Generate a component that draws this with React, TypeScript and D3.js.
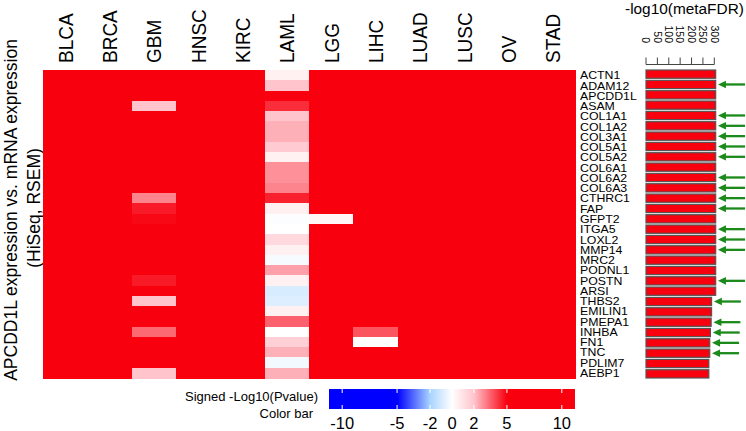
import React from 'react';
import * as d3 from 'd3';

const W = 746;
const H = 431;

const cancers = ["BLCA", "BRCA", "GBM", "HNSC", "KIRC", "LAML", "LGG", "LIHC", "LUAD", "LUSC", "OV", "STAD"];
const genes = ["ACTN1", "ADAM12", "APCDD1L", "ASAM", "COL1A1", "COL1A2", "COL3A1", "COL5A1", "COL5A2", "COL6A1",
  "COL6A2", "COL6A3", "CTHRC1", "FAP", "GFPT2", "ITGA5", "LOXL2", "MMP14", "MRC2", "PODNL1",
  "POSTN", "ARSI", "THBS2", "EMILIN1", "PMEPA1", "INHBA", "FN1", "TNC", "PDLIM7", "AEBP1"];

// signed -log10(p) per cancer (one value per gene, in gene order)
const BLCA = [10, 10, 10, 10, 10, 10, 10, 10, 10, 10, 10, 10, 10, 10, 10, 10, 10, 10, 10, 10, 10, 10, 10, 10, 10, 10, 10, 10, 10, 10];
const BRCA = [10, 10, 10, 10, 10, 10, 10, 10, 10, 10, 10, 10, 10, 10, 10, 10, 10, 10, 10, 10, 10, 10, 10, 10, 10, 10, 10, 10, 10, 10];
const GBM = [10, 10, 10, 2.0, 10, 10, 10, 10, 10, 10, 10, 10, 3.0, 4.6, 4.9, 10, 10, 10, 10, 10, 4.6, 10, 2.0, 10, 10, 3.4, 10, 10, 10, 2.0];
const HNSC = [10, 10, 10, 10, 10, 10, 10, 10, 10, 10, 10, 10, 10, 10, 10, 10, 10, 10, 10, 10, 10, 10, 10, 10, 10, 10, 10, 10, 10, 10];
const KIRC = [10, 10, 10, 10, 10, 10, 10, 10, 10, 10, 10, 10, 10, 10, 10, 10, 10, 10, 10, 10, 10, 10, 10, 10, 10, 10, 10, 10, 10, 10];
const LAML = [0.5, 2.0, 10, 4.3, 2.0, 2.3, 2.3, 1.8, 0.5, 2.8, 2.8, 3.0, 4.5, 0.5, -0.1, 0, 1.3, 0.5, -0.2, 2.55, 0.5, -0.9, -0.8, 0.5, 3.5, 0, 1.6, 2.3, -0.3, 2.3];
const LGG = [10, 10, 10, 10, 10, 10, 10, 10, 10, 10, 10, 10, 10, 10, 0.3, 10, 10, 10, 10, 10, 10, 10, 10, 10, 10, 10, 10, 10, 10, 10];
const LIHC = [10, 10, 10, 10, 10, 10, 10, 10, 10, 10, 10, 10, 10, 10, 10, 10, 10, 10, 10, 10, 10, 10, 10, 10, 10, 3.7, 0, 10, 10, 10];
const LUAD = [10, 10, 10, 10, 10, 10, 10, 10, 10, 10, 10, 10, 10, 10, 10, 10, 10, 10, 10, 10, 10, 10, 10, 10, 10, 10, 10, 10, 10, 10];
const LUSC = [10, 10, 10, 10, 10, 10, 10, 10, 10, 10, 10, 10, 10, 10, 10, 10, 10, 10, 10, 10, 10, 10, 10, 10, 10, 10, 10, 10, 10, 10];
const OV = [10, 10, 10, 10, 10, 10, 10, 10, 10, 10, 10, 10, 10, 10, 10, 10, 10, 10, 10, 10, 10, 10, 10, 10, 10, 10, 10, 10, 10, 10];
const STAD = [10, 10, 10, 10, 10, 10, 10, 10, 10, 10, 10, 10, 10, 10, 10, 10, 10, 10, 10, 10, 10, 10, 10, 10, 10, 10, 10, 10, 10, 10];
const columns = [BLCA, BRCA, GBM, HNSC, KIRC, LAML, LGG, LIHC, LUAD, LUSC, OV, STAD];

// -log10(metaFDR) per gene
const metaFDR = [306, 306, 306, 306, 306, 306, 306, 306, 306, 306, 306, 306, 306, 306, 306, 306, 306, 306, 306, 306,
  306, 306, 288, 288, 286, 283, 280, 280, 276, 276];
const barTicks = [0, 50, 100, 150, 200, 250, 300];
const arrowGenes = ["ADAM12", "COL1A1", "COL1A2", "COL3A1", "COL5A1", "COL5A2", "COL6A2", "COL6A3", "CTHRC1", "FAP",
  "ITGA5", "LOXL2", "MMP14", "POSTN", "THBS2", "PMEPA1", "INHBA", "FN1", "TNC"];

const colorStops = [-5, -2, 0, 2, 5];
const colorRange = ["#0000ff", "#a8d4ff", "#ffffff", "#ffc4cc", "#f8000e"];
const cbTicks = [-10, -5, -2, 0, 2, 5, 10];

const FONT = "'Liberation Sans', Arial, Helvetica, sans-serif";

export default function App() {
  const x = d3.scaleBand<string>().domain(cancers).range([43.3, 575]);
  const y = d3.scaleBand<string>().domain(genes).range([70, 378]);
  const color = d3.scaleLinear<string>().domain(colorStops).range(colorRange).clamp(true);
  const yb = d3.scaleBand<string>().domain(genes).range([70, 378]).paddingInner(0.2).paddingOuter(0).align(0);
  const xb = d3.scaleLinear().domain([0, 300]).range([646, 714.3]);
  const cb = d3.scaleLinear().domain([-11.2, 11.2]).range([329, 575]);
  const cbW = cb.range()[1] - cb.range()[0];
  const green = "#1b8a1b";

  return (
    <svg width={W} height={H} style={{ position: 'absolute', left: 0, top: 0, background: '#fff' }} fontFamily={FONT}>
      <defs>
        <linearGradient id="cbgrad" x1="0" x2="1" y1="0" y2="0">
          {colorStops.map((v, i) => (
            <stop key={i} offset={(cb(v) - cb.range()[0]) / cbW} stopColor={colorRange[i]} />
          ))}
        </linearGradient>
      </defs>

      {/* left title */}
      <text transform={`translate(17,210) rotate(-90)`} textAnchor="middle" fontSize={17.5}>
        APCDD1L expression vs. mRNA expression
      </text>
      <text transform={`translate(40,208) rotate(-90)`} textAnchor="middle" fontSize={17.5}>
        (HiSeq, RSEM)
      </text>

      {/* heatmap */}
      <g shapeRendering="crispEdges">
        {cancers.map((c, ci) =>
          genes.map((g, gi) => (
            <rect key={c + g} x={x(c)} y={y(g)} width={x.bandwidth() + 0.5} height={y.bandwidth() + 0.5}
              fill={color(columns[ci][gi])} />
          ))
        )}
      </g>

      {/* column labels */}
      {cancers.map((c) => (
        <text key={c} transform={`translate(${(x(c) as number) + x.bandwidth() / 2},63) scale(1.08,1) rotate(-90)`}
          dy="0.36em" fontSize={19}>{c}</text>
      ))}

      {/* gene labels */}
      {genes.map((g) => (
        <text key={g} transform={`translate(580,${(y(g) as number) + y.bandwidth() / 2}) scale(1.08,1)`}
          dy="0.36em" fontSize={11.4}>{g}</text>
      ))}

      {/* bar chart */}
      <text x={625} y={14} fontSize={15.4}>-log10(metaFDR)</text>
      <line x1={xb(0)} x2={xb(300)} y1={64.5} y2={64.5} stroke="#444" strokeWidth={1} />
      {barTicks.map((t) => (
        <g key={t}>
          <line x1={xb(t)} x2={xb(t)} y1={57.5} y2={64.5} stroke="#444" strokeWidth={1} />
          <text transform={`translate(${xb(t)},43) rotate(90)`} textAnchor="end" dy="0.36em" fontSize={10.5}>{t}</text>
        </g>
      ))}
      {genes.map((g, i) => (
        <rect key={g} x={xb(0)} y={yb(g)} width={xb(metaFDR[i]) - xb(0)} height={yb.bandwidth()}
          fill="#f8000e" stroke="#555" strokeWidth={1.2} />
      ))}
      {genes.map((g, i) => {
        if (!arrowGenes.includes(g)) return null;
        const cy = (yb(g) as number) + yb.bandwidth() / 2;
        const x0 = xb(metaFDR[i]) + 2.3;
        return (
          <g key={g}>
            <line x1={x0 + 6} x2={x0 + 27} y1={cy} y2={cy} stroke={green} strokeWidth={2.3} />
            <path d={`M${x0},${cy}L${x0 + 8},${cy - 3.8}L${x0 + 8},${cy + 3.8}Z`} fill={green} />
          </g>
        );
      })}

      {/* color bar */}
      <rect x={cb.range()[0]} y={389} width={cbW} height={20} fill="url(#cbgrad)" />
      {cbTicks.map((t) => (
        <g key={t}>
          <line x1={cb(t)} x2={cb(t)} y1={389} y2={393} stroke="#fff" strokeWidth={1} />
          <line x1={cb(t)} x2={cb(t)} y1={405} y2={409} stroke="#fff" strokeWidth={1} />
          <text x={cb(t)} y={429} textAnchor="middle" fontSize={16.5}>{t}</text>
        </g>
      ))}
      <text x={318} y={401} textAnchor="end" fontSize={13}>Signed -Log10(Pvalue)</text>
      <text x={313} y={418} textAnchor="end" fontSize={13}>Color bar</text>
    </svg>
  );
}
